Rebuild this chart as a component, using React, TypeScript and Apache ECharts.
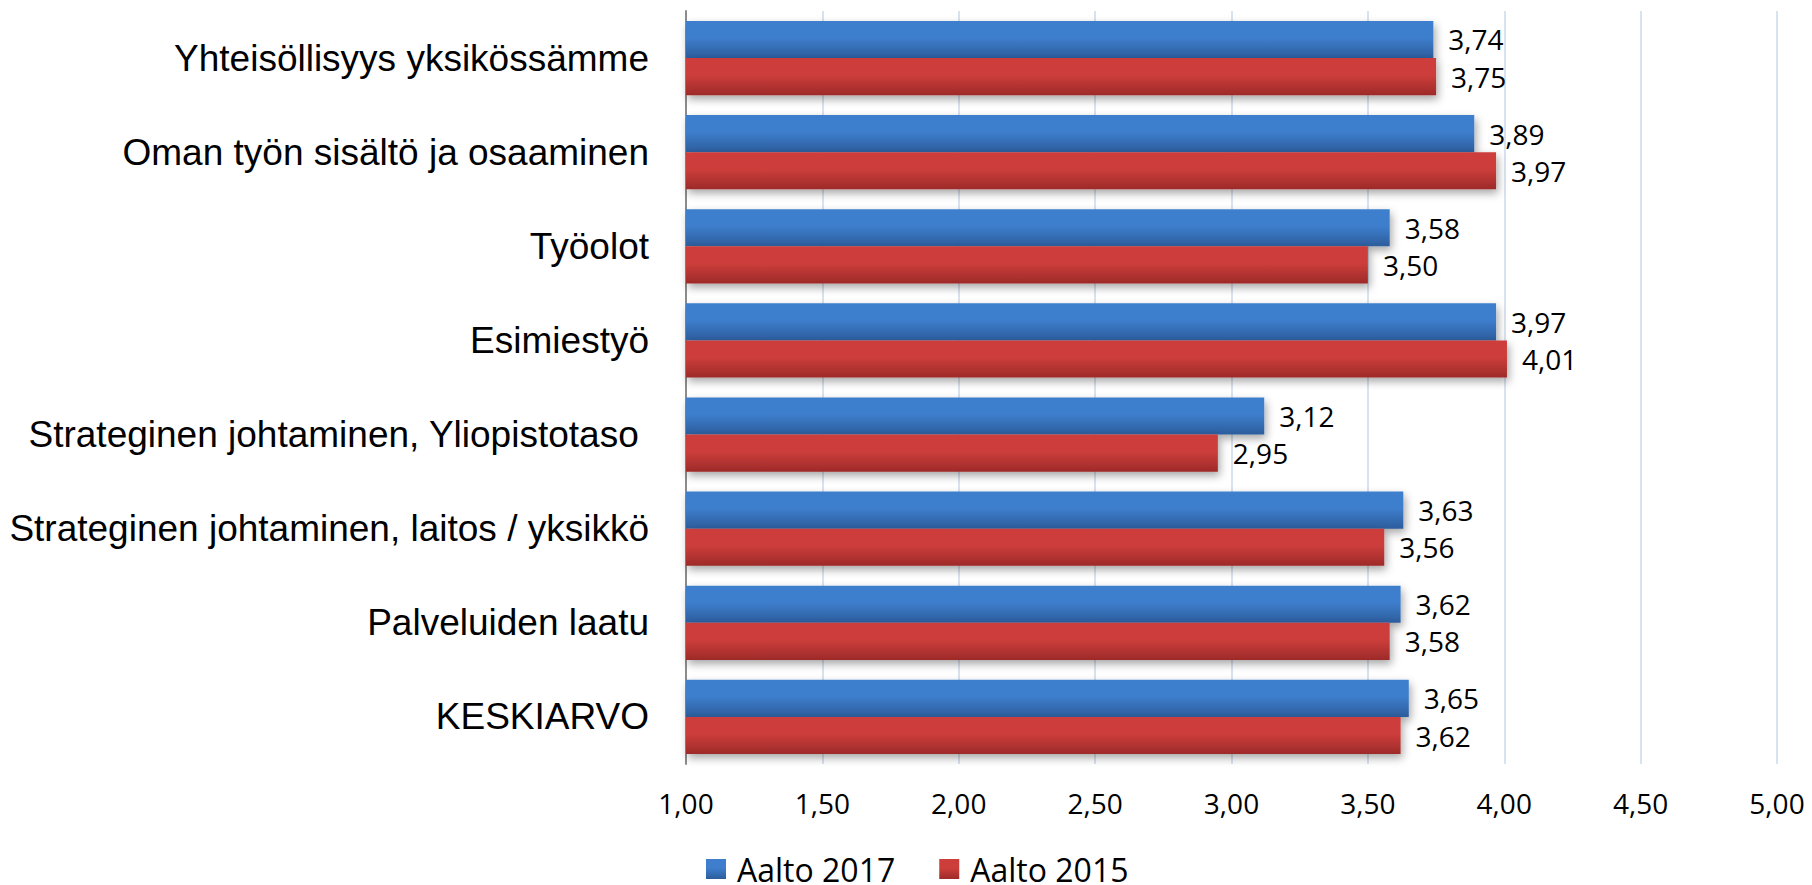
import React, { useEffect, useRef } from "react";
import * as echarts from "echarts";

const categories = [
  "Yhteisöllisyys yksikössämme",
  "Oman työn sisältö ja osaaminen",
  "Työolot",
  "Esimiestyö",
  "Strateginen johtaminen, Yliopistotaso ",
  "Strateginen johtaminen, laitos / yksikkö",
  "Palveluiden laatu",
  "KESKIARVO",
];
const seriesNames = ["Aalto 2017", "Aalto 2015"];
const aalto2017 = [3.74, 3.89, 3.58, 3.97, 3.12, 3.63, 3.62, 3.65];
const aalto2015 = [3.75, 3.97, 3.5, 4.01, 2.95, 3.56, 3.58, 3.62];
const axisMin = 1;
const axisMax = 5;
const axisStep = 0.5;

const fmt = (v: number) => v.toFixed(2).replace(".", ",");

const grad = (top: string, bottom: string) =>
  new echarts.graphic.LinearGradient(0, 0, 0, 1, [
    { offset: 0, color: top },
    { offset: 0.45, color: top },
    { offset: 1, color: bottom },
  ]);

export default function App() {
  const ref = useRef<HTMLDivElement>(null);
  useEffect(() => {
    if (!ref.current) return;
    const chart = echarts.init(ref.current, undefined, { renderer: "svg" });
    const labelStyle = {
      show: true,
      position: "right" as const,
      distance: 15,
      fontFamily: "Open Sans",
      fontSize: 28,
      color: "#000",
      formatter: (p: any) => fmt(p.value),
    };
    const shadow = {
      shadowBlur: 8,
      shadowColor: "rgba(0,0,0,0.35)",
      shadowOffsetX: 2,
      shadowOffsetY: 4,
    };
    chart.setOption({
      animation: false,
      backgroundColor: "#fff",
      grid: { left: 686, right: 35, top: 11, bottom: 121, containLabel: false },
      legend: {
        left: 706,
        top: 853,
        padding: 0,
        itemWidth: 20,
        itemHeight: 20,
        itemGap: 44,
        icon: "rect",
        itemStyle: { shadowBlur: 0, shadowOffsetX: 0, shadowOffsetY: 0 },
        textStyle: {
          fontFamily: "Open Sans",
          fontSize: 32,
          color: "#000",
          padding: [0, 0, 0, 6],
        },
        data: seriesNames,
      },
      xAxis: {
        type: "value",
        min: axisMin,
        max: axisMax,
        interval: axisStep,
        axisLine: { show: false },
        axisTick: { show: false },
        splitLine: { show: true, lineStyle: { color: "#d9e2ef", width: 2 } },
        axisLabel: {
          margin: 25,
          fontFamily: "Open Sans",
          fontSize: 28,
          color: "#000",
          formatter: (v: number) => fmt(v),
        },
      },
      yAxis: {
        type: "category",
        inverse: true,
        data: categories,
        axisLine: { show: true, lineStyle: { color: "#8c8c8c", width: 2 } },
        axisTick: { show: false },
        axisLabel: {
          margin: 37,
          fontFamily: "Liberation Sans, Arial, sans-serif",
          fontSize: 37,
          color: "#000",
        },
      },
      series: [
        {
          name: seriesNames[0],
          type: "bar",
          data: aalto2017,
          barGap: "0%",
          barCategoryGap: "21%",
          itemStyle: { color: grad("#3e7ecd", "#2c5d9c"), ...shadow },
          label: labelStyle,
        },
        {
          name: seriesNames[1],
          type: "bar",
          data: aalto2015,
          barGap: "0%",
          barCategoryGap: "21%",
          itemStyle: { color: grad("#cd3e3b", "#9d2a29"), ...shadow },
          label: labelStyle,
        },
      ],
    });
    return () => chart.dispose();
  }, []);
  return <div ref={ref} style={{ width: 1812, height: 885, position: "absolute", left: 0, top: 0 }} />;
}
